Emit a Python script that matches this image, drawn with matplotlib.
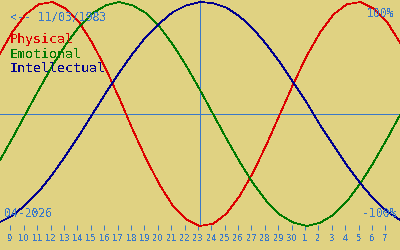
import matplotlib
matplotlib.use("Agg")
import matplotlib.pyplot as plt

plt.rcParams.update({
    "font.family": "DejaVu Sans Mono",
    "text.antialiased": False,
})

# day of the chart (April numbering, 31 = 1 May)
days = list(range(7, 39))
physical = [0.27, 0.52, 0.73, 0.89, 0.98, 1.00, 0.94, 0.82, 0.63, 0.40, 0.14,
            -0.14, -0.40, -0.63, -0.82, -0.94, -1.00, -0.98, -0.89, -0.73,
            -0.52, -0.27, 0.00, 0.27, 0.52, 0.73, 0.89, 0.98, 1.00, 0.94,
            0.82, 0.63]
emotional = [-0.62, -0.43, -0.22, 0.00, 0.22, 0.43, 0.62, 0.78, 0.90, 0.97,
             1.00, 0.97, 0.90, 0.78, 0.62, 0.43, 0.22, 0.00, -0.22, -0.43,
             -0.62, -0.78, -0.90, -0.97, -1.00, -0.97, -0.90, -0.78, -0.62,
             -0.43, -0.22, 0.00]
intellectual = [-1.00, -0.97, -0.91, -0.81, -0.69, -0.54, -0.37, -0.19, 0.00,
                0.19, 0.37, 0.54, 0.69, 0.81, 0.91, 0.97, 1.00, 0.99, 0.95,
                0.87, 0.76, 0.62, 0.46, 0.28, 0.10, -0.10, -0.28, -0.46,
                -0.62, -0.76, -0.87, -0.95]
today = 23.02
tick_days = list(range(9, 38))
tick_labels = [str(d) if d <= 30 else str(d - 30) for d in tick_days]

bg = "#e0d282"
blue = "#3a78c8"

fig = plt.figure(figsize=(4, 2.5), dpi=100, facecolor=bg)
ax = fig.add_axes([0, 20 / 250, 1, 230 / 250])
ax.set_facecolor(bg)
for s in ax.spines.values():
    s.set_visible(False)

lw = 0.72
cw = 0.55
ax.axhline(0, color=blue, linewidth=lw, antialiased=False)
ax.axvline(today, ymin=5 / 230, ymax=1, color=blue, linewidth=lw, antialiased=False)
ax.plot(days, physical, color="#dd0000", linewidth=cw, antialiased=False)
ax.plot(days, emotional, color="#007a00", linewidth=cw, antialiased=False)
ax.plot(days, intellectual, color="#000090", linewidth=cw, antialiased=False)

ax.set_xlim(8.09, 37.96)
ax.set_ylim(-116 / 112, 114 / 112)
ax.set_yticks([])
ax.set_xticks([d - 0.13 for d in tick_days])
ax.set_xticklabels(tick_labels, family="DejaVu Sans", fontsize=6, color=blue)
ax.tick_params(axis="x", direction="in", length=3.6, width=0.72, color=blue, pad=3.2)

def px(x, y):
    return x / 400, 1 - y / 250

fig.text(*px(10, 20.5), "<-- 11/03/1983", fontsize=8.3, color=blue, va="baseline")
fig.text(*px(394, 16.5), "100%", fontsize=8.3, color=blue, ha="right", va="baseline")
fig.text(*px(396, 217), "-100%", fontsize=8.3, color=blue, ha="right", va="baseline")
fig.text(*px(4.5, 217), "04-2026", fontsize=8.3, color=blue, va="baseline")
fig.text(*px(10, 42.5), "Physical", fontsize=9.5, color="#dd0000", va="baseline")
fig.text(*px(10, 57.5), "Emotional", fontsize=9.5, color="#007a00", va="baseline")
fig.text(*px(10, 72.5), "Intellectual", fontsize=9.5, color="#000090", va="baseline")

fig.savefig("out.png", dpi=100, facecolor=bg)
